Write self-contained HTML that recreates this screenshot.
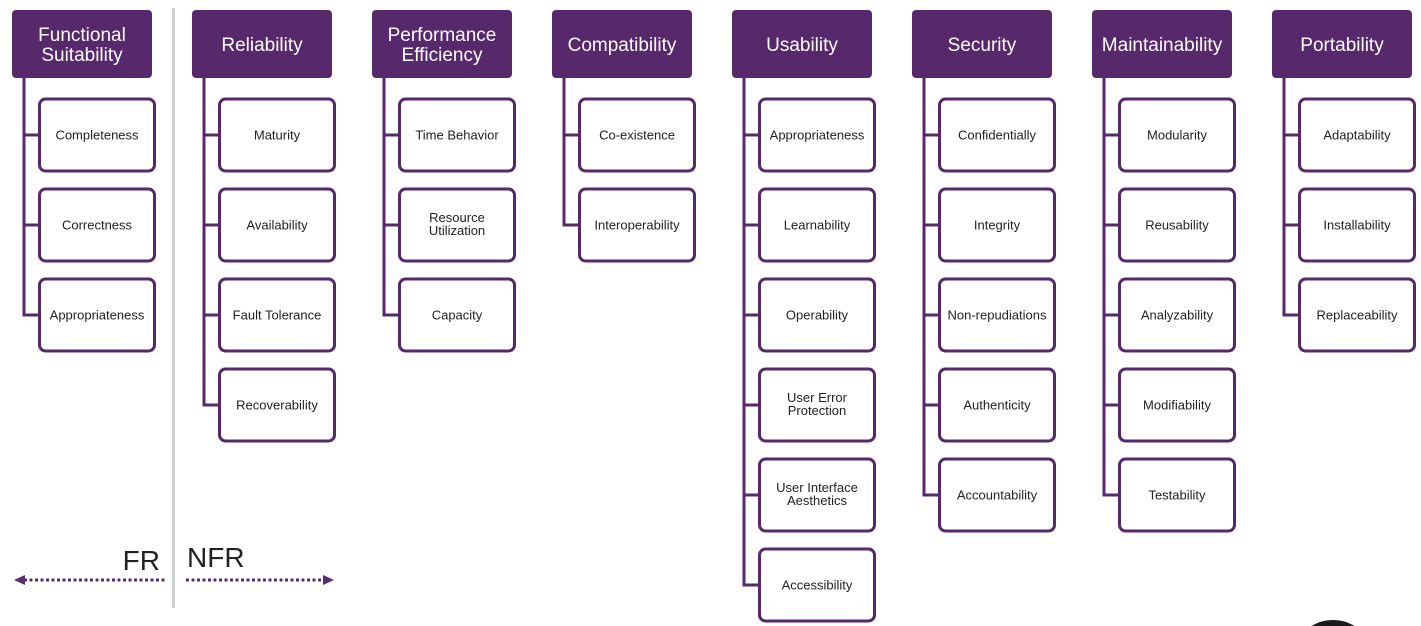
<!DOCTYPE html>
<html><head><meta charset="utf-8"><style>
html,body{margin:0;padding:0;background:#fff;width:1421px;height:626px;overflow:hidden;}
svg{display:block;font-family:"Liberation Sans",Arial,sans-serif;}
.h{fill:#57286b;}
.ht{fill:#fff;font-size:19px;text-anchor:middle;}
.b{fill:#fff;stroke:#57286b;stroke-width:3;}
.t{fill:#222;font-size:13px;text-anchor:middle;}
.c{fill:none;stroke:#57286b;stroke-width:3;}
</style></head><body>
<svg width="1421" height="626" viewBox="0 0 1421 626" xmlns="http://www.w3.org/2000/svg">
<rect x="172" y="8" width="3" height="600" fill="#cfcfcf"/>
<circle cx="1333" cy="662" r="42" fill="#1a1a1a"/>

<!-- Col 0 -->
<g transform="translate(0,0)">
<path class="c" d="M24 76V315H40M24 135H40M24 225H40"/>
<rect class="h" x="12" y="10" width="140" height="68" rx="4"/>
<text class="ht" x="82" y="41">Functional</text><text class="ht" x="82" y="61">Suitability</text>
<rect class="b" x="39.5" y="99" width="115" height="72" rx="6"/><text class="t" x="97" y="139.5">Completeness</text>
<rect class="b" x="39.5" y="189" width="115" height="72" rx="6"/><text class="t" x="97" y="229.5">Correctness</text>
<rect class="b" x="39.5" y="279" width="115" height="72" rx="6"/><text class="t" x="97" y="319.5">Appropriateness</text>
</g>

<!-- Col 1 -->
<g transform="translate(180,0)">
<path class="c" d="M24 76V405H40M24 135H40M24 225H40M24 315H40"/>
<rect class="h" x="12" y="10" width="140" height="68" rx="4"/>
<text class="ht" x="82" y="51">Reliability</text>
<rect class="b" x="39.5" y="99" width="115" height="72" rx="6"/><text class="t" x="97" y="139.5">Maturity</text>
<rect class="b" x="39.5" y="189" width="115" height="72" rx="6"/><text class="t" x="97" y="229.5">Availability</text>
<rect class="b" x="39.5" y="279" width="115" height="72" rx="6"/><text class="t" x="97" y="319.5">Fault Tolerance</text>
<rect class="b" x="39.5" y="369" width="115" height="72" rx="6"/><text class="t" x="97" y="409.5">Recoverability</text>
</g>

<!-- Col 2 -->
<g transform="translate(360,0)">
<path class="c" d="M24 76V315H40M24 135H40M24 225H40"/>
<rect class="h" x="12" y="10" width="140" height="68" rx="4"/>
<text class="ht" x="82" y="41">Performance</text><text class="ht" x="82" y="61">Efficiency</text>
<rect class="b" x="39.5" y="99" width="115" height="72" rx="6"/><text class="t" x="97" y="139.5">Time Behavior</text>
<rect class="b" x="39.5" y="189" width="115" height="72" rx="6"/><text class="t" x="97" y="222">Resource</text><text class="t" x="97" y="235">Utilization</text>
<rect class="b" x="39.5" y="279" width="115" height="72" rx="6"/><text class="t" x="97" y="319.5">Capacity</text>
</g>

<!-- Col 3 -->
<g transform="translate(540,0)">
<path class="c" d="M24 76V225H40M24 135H40"/>
<rect class="h" x="12" y="10" width="140" height="68" rx="4"/>
<text class="ht" x="82" y="51">Compatibility</text>
<rect class="b" x="39.5" y="99" width="115" height="72" rx="6"/><text class="t" x="97" y="139.5">Co-existence</text>
<rect class="b" x="39.5" y="189" width="115" height="72" rx="6"/><text class="t" x="97" y="229.5">Interoperability</text>
</g>

<!-- Col 4 -->
<g transform="translate(720,0)">
<path class="c" d="M24 76V585H40M24 135H40M24 225H40M24 315H40M24 405H40M24 495H40"/>
<rect class="h" x="12" y="10" width="140" height="68" rx="4"/>
<text class="ht" x="82" y="51">Usability</text>
<rect class="b" x="39.5" y="99" width="115" height="72" rx="6"/><text class="t" x="97" y="139.5">Appropriateness</text>
<rect class="b" x="39.5" y="189" width="115" height="72" rx="6"/><text class="t" x="97" y="229.5">Learnability</text>
<rect class="b" x="39.5" y="279" width="115" height="72" rx="6"/><text class="t" x="97" y="319.5">Operability</text>
<rect class="b" x="39.5" y="369" width="115" height="72" rx="6"/><text class="t" x="97" y="402">User Error</text><text class="t" x="97" y="415">Protection</text>
<rect class="b" x="39.5" y="459" width="115" height="72" rx="6"/><text class="t" x="97" y="492">User Interface</text><text class="t" x="97" y="505">Aesthetics</text>
<rect class="b" x="39.5" y="549" width="115" height="72" rx="6"/><text class="t" x="97" y="589.5">Accessibility</text>
</g>

<!-- Col 5 -->
<g transform="translate(900,0)">
<path class="c" d="M24 76V495H40M24 135H40M24 225H40M24 315H40M24 405H40"/>
<rect class="h" x="12" y="10" width="140" height="68" rx="4"/>
<text class="ht" x="82" y="51">Security</text>
<rect class="b" x="39.5" y="99" width="115" height="72" rx="6"/><text class="t" x="97" y="139.5">Confidentially</text>
<rect class="b" x="39.5" y="189" width="115" height="72" rx="6"/><text class="t" x="97" y="229.5">Integrity</text>
<rect class="b" x="39.5" y="279" width="115" height="72" rx="6"/><text class="t" x="97" y="319.5">Non-repudiations</text>
<rect class="b" x="39.5" y="369" width="115" height="72" rx="6"/><text class="t" x="97" y="409.5">Authenticity</text>
<rect class="b" x="39.5" y="459" width="115" height="72" rx="6"/><text class="t" x="97" y="499.5">Accountability</text>
</g>

<!-- Col 6 -->
<g transform="translate(1080,0)">
<path class="c" d="M24 76V495H40M24 135H40M24 225H40M24 315H40M24 405H40"/>
<rect class="h" x="12" y="10" width="140" height="68" rx="4"/>
<text class="ht" x="82" y="51">Maintainability</text>
<rect class="b" x="39.5" y="99" width="115" height="72" rx="6"/><text class="t" x="97" y="139.5">Modularity</text>
<rect class="b" x="39.5" y="189" width="115" height="72" rx="6"/><text class="t" x="97" y="229.5">Reusability</text>
<rect class="b" x="39.5" y="279" width="115" height="72" rx="6"/><text class="t" x="97" y="319.5">Analyzability</text>
<rect class="b" x="39.5" y="369" width="115" height="72" rx="6"/><text class="t" x="97" y="409.5">Modifiability</text>
<rect class="b" x="39.5" y="459" width="115" height="72" rx="6"/><text class="t" x="97" y="499.5">Testability</text>
</g>

<!-- Col 7 -->
<g transform="translate(1260,0)">
<path class="c" d="M24 76V315H40M24 135H40M24 225H40"/>
<rect class="h" x="12" y="10" width="140" height="68" rx="4"/>
<text class="ht" x="82" y="51">Portability</text>
<rect class="b" x="39.5" y="99" width="115" height="72" rx="6"/><text class="t" x="97" y="139.5">Adaptability</text>
<rect class="b" x="39.5" y="189" width="115" height="72" rx="6"/><text class="t" x="97" y="229.5">Installability</text>
<rect class="b" x="39.5" y="279" width="115" height="72" rx="6"/><text class="t" x="97" y="319.5">Replaceability</text>
</g>

<!-- FR / NFR -->
<text x="160" y="570" font-size="28" fill="#222" text-anchor="end">FR</text>
<text x="187" y="567" font-size="28" fill="#222">NFR</text>
<line x1="24" y1="580" x2="165" y2="580" stroke="#5a2a70" stroke-width="3" stroke-dasharray="3,2.5"/>
<polygon points="14,580 25,575 25,585" fill="#5a2a70"/>
<line x1="186" y1="580" x2="324" y2="580" stroke="#5a2a70" stroke-width="3" stroke-dasharray="3,2.5"/>
<polygon points="334,580 323,575 323,585" fill="#5a2a70"/>
</svg>
</body></html>
